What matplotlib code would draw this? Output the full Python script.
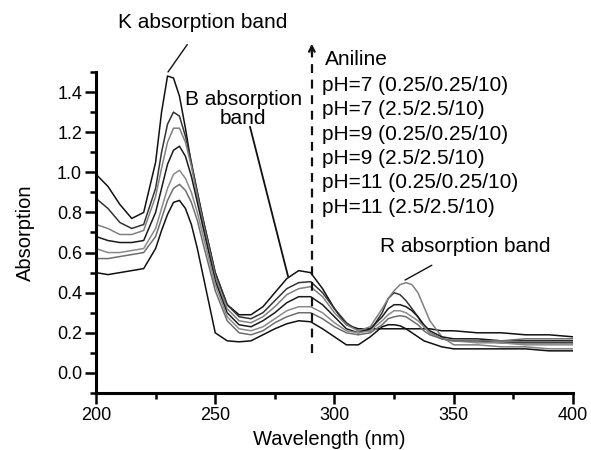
import numpy as np
import matplotlib
matplotlib.use('Agg')
import matplotlib.pyplot as plt

plt.rcParams['font.family'] = ['Liberation Sans', 'DejaVu Sans']

# wavelengths (nm) and absorption of the seven spectra
wavelength = [200, 205, 210, 215, 220, 225, 227.5, 230, 232.5, 235, 237.5, 240, 242.5,
              245, 250, 255, 260, 265, 270, 275, 280, 285, 290, 295, 300, 305, 310,
              315, 320, 322.5, 325, 327.5, 330, 332.5, 335, 337.5, 340, 345, 350,
              360, 370, 380, 390, 400]

aniline = [0.99, 0.93, 0.84, 0.77, 0.80, 1.05, 1.30, 1.48, 1.47, 1.38, 1.22, 1.04, 0.90,
           0.76, 0.50, 0.34, 0.29, 0.29, 0.33, 0.40, 0.47, 0.51, 0.50, 0.42, 0.32,
           0.24, 0.22, 0.22, 0.22, 0.22, 0.22, 0.22, 0.22, 0.22, 0.22, 0.22, 0.22,
           0.21, 0.21, 0.20, 0.20, 0.19, 0.19, 0.18]
ph7_a = [0.87, 0.82, 0.75, 0.72, 0.74, 0.92, 1.10, 1.24, 1.30, 1.28, 1.18, 1.05, 0.90,
         0.76, 0.50, 0.34, 0.28, 0.27, 0.30, 0.36, 0.42, 0.45, 0.455, 0.40, 0.32,
         0.25, 0.21, 0.21, 0.30, 0.37, 0.40, 0.39, 0.36, 0.32, 0.28, 0.23, 0.20,
         0.17, 0.16, 0.16, 0.15, 0.15, 0.15, 0.15]
ph7_b = [0.74, 0.72, 0.69, 0.69, 0.71, 0.88, 1.02, 1.15, 1.22, 1.22, 1.15, 1.03, 0.88,
         0.74, 0.48, 0.32, 0.26, 0.25, 0.28, 0.33, 0.39, 0.42, 0.43, 0.38, 0.30,
         0.24, 0.21, 0.23, 0.32, 0.37, 0.41, 0.44, 0.45, 0.44, 0.40, 0.33, 0.26,
         0.18, 0.14, 0.14, 0.13, 0.13, 0.12, 0.12]
ph9_a = [0.68, 0.66, 0.65, 0.65, 0.66, 0.80, 0.92, 1.04, 1.11, 1.13, 1.08, 0.98, 0.85,
         0.72, 0.46, 0.30, 0.24, 0.23, 0.26, 0.30, 0.35, 0.38, 0.38, 0.34, 0.28,
         0.22, 0.20, 0.22, 0.28, 0.32, 0.34, 0.34, 0.33, 0.31, 0.28, 0.24, 0.21,
         0.18, 0.17, 0.17, 0.16, 0.16, 0.16, 0.16]
ph9_b = [0.62, 0.60, 0.60, 0.61, 0.62, 0.72, 0.82, 0.92, 0.99, 1.01, 0.97, 0.90, 0.80,
         0.68, 0.44, 0.28, 0.22, 0.21, 0.23, 0.27, 0.31, 0.33, 0.33, 0.30, 0.25,
         0.21, 0.20, 0.21, 0.26, 0.29, 0.31, 0.31, 0.30, 0.28, 0.26, 0.23, 0.20,
         0.17, 0.16, 0.15, 0.15, 0.14, 0.14, 0.14]
ph11_a = [0.57, 0.57, 0.58, 0.59, 0.60, 0.68, 0.77, 0.86, 0.92, 0.94, 0.91, 0.85, 0.76,
          0.64, 0.41, 0.26, 0.20, 0.19, 0.21, 0.25, 0.28, 0.30, 0.30, 0.27, 0.23,
          0.20, 0.19, 0.20, 0.24, 0.27, 0.28, 0.285, 0.28, 0.26, 0.24, 0.21, 0.19,
          0.17, 0.16, 0.16, 0.16, 0.17, 0.17, 0.17]
ph11_b = [0.50, 0.49, 0.50, 0.51, 0.52, 0.62, 0.71, 0.79, 0.85, 0.86, 0.82, 0.74, 0.62,
          0.48, 0.20, 0.16, 0.155, 0.16, 0.19, 0.22, 0.245, 0.26, 0.255, 0.22, 0.18,
          0.14, 0.14, 0.18, 0.23, 0.24, 0.24, 0.235, 0.22, 0.20, 0.18, 0.16, 0.15,
          0.13, 0.12, 0.12, 0.12, 0.12, 0.11, 0.11]

series = [aniline, ph7_a, ph7_b, ph9_a, ph9_b, ph11_a, ph11_b]
colors = ['#111111', '#333333', '#808080', '#1a1a1a', '#8a8a8a', '#6e6e6e', '#111111']

labels = ['Aniline', 'pH=7 (0.25/0.25/10)', 'pH=7 (2.5/2.5/10)',
          'pH=9 (0.25/0.25/10)', 'pH=9 (2.5/2.5/10)',
          'pH=11 (0.25/0.25/10)', 'pH=11 (2.5/2.5/10)']

fig = plt.figure(figsize=(5.91, 4.5), dpi=100)
ax = fig.add_axes([0.1624, 0.1267, 0.8071, 0.7133])

for y, c in zip(series, colors):
    ax.plot(wavelength, y, color=c, lw=1.1)

ax.set_xlim(200, 400)
ax.set_ylim(-0.1, 1.5)
ax.set_xticks([200, 250, 300, 350, 400])
ax.set_xticks([225, 275, 325, 375], minor=True)
ax.set_yticks(np.arange(0, 1.41, 0.2))
ax.set_yticks(np.arange(-0.1, 1.51, 0.1), minor=True)
ax.set_yticklabels(['%.1f' % v for v in np.arange(0, 1.41, 0.2)])

for s in ['top', 'right']:
    ax.spines[s].set_visible(False)
for s in ['left', 'bottom']:
    ax.spines[s].set_linewidth(2.2)

ax.tick_params(which='major', length=8, width=1.8, labelsize=13, pad=2)
ax.tick_params(which='minor', length=4.5, width=1.8)

ax.set_xlabel('Wavelength (nm)', fontsize=14.5)
ax.xaxis.set_label_coords(0.49, -0.115)
ax.set_ylabel('Absorption', fontsize=14.5)
ax.yaxis.set_label_coords(-0.128, 0.5)

# dashed arrow
ax.plot([290.5, 290.5], [0.1, 1.6], ls=(0, (4, 3)), color='#111111', lw=1.6, clip_on=False)
ax.annotate('', xy=(290.5, 1.655), xytext=(290.5, 1.58), annotation_clip=False,
            arrowprops=dict(arrowstyle='->', lw=1.6, color='#111111'))

# legend-like text list
ax.text(296.2, 1.56, labels[0], fontsize=15, ha='left', va='center', clip_on=False)
label_y = [1.435, 1.315, 1.19, 1.07, 0.947, 0.827]
for lab, yy in zip(labels[1:], label_y):
    ax.text(294.8, yy, lab, fontsize=15, ha='left', va='center')

# band annotations
ax.annotate('K absorption band', xy=(230.2, 1.50), xytext=(244.9, 1.749),
            fontsize=15, ha='center', va='center', annotation_clip=False,
            arrowprops=dict(arrowstyle='-', lw=1.0, color='#111111',
                            shrinkA=9, shrinkB=0))
ax.text(261.8, 1.315, 'B absorption\nband', fontsize=15, ha='center', va='center',
        linespacing=1.05)
ax.plot([264.6, 280.5], [1.226, 0.483], color='#111111', lw=1.3)
ax.annotate('R absorption band', xy=(329.6, 0.463), xytext=(354.7, 0.628),
            fontsize=15, ha='center', va='center',
            arrowprops=dict(arrowstyle='-', lw=1.0, color='#111111',
                            shrinkA=9, shrinkB=0))

fig.savefig('out.png', dpi=100)
